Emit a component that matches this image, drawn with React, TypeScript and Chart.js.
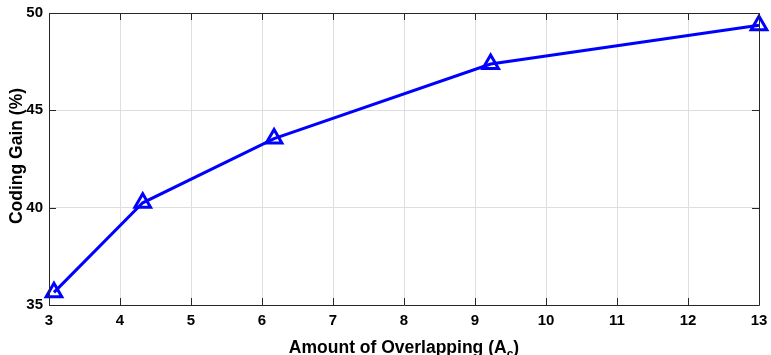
import React, { useEffect, useRef } from "react";
import { Chart, registerables } from "chart.js";

Chart.register(...registerables);

const overlapping = [3.07, 4.32, 6.17, 9.22, 13];
const codingGain = [35.65, 40.25, 43.55, 47.38, 49.37];
const xTicks = [3, 4, 5, 6, 7, 8, 9, 10, 11, 12, 13];
const yTicks = [35, 40, 45, 50];
const xTitleMain = "Amount of Overlapping (A";
const xTitleSub = "c";
const xTitleEnd = ")";
const yTitle = "Coding Gain (%)";

const FONT = "'Liberation Sans', Arial, Helvetica, sans-serif";

const framePlugin = {
  id: "frame",
  afterDraw(chart: any) {
    const { ctx, chartArea } = chart;
    const { left, right, top, bottom } = chartArea;
    const xs = chart.scales.x;
    const ys = chart.scales.y;
    const tl = 7;
    ctx.save();
    ctx.strokeStyle = "#262626";
    ctx.lineWidth = 1;
    ctx.beginPath();
    ctx.rect(Math.round(left) + 0.5, Math.round(top) + 0.5, Math.round(right - left), Math.round(bottom - top));
    ctx.stroke();
    ctx.beginPath();
    xTicks.forEach((v) => {
      const px = Math.round(xs.getPixelForValue(v)) + 0.5;
      ctx.moveTo(px, bottom);
      ctx.lineTo(px, bottom - tl);
      ctx.moveTo(px, top);
      ctx.lineTo(px, top + tl);
    });
    yTicks.forEach((v) => {
      const py = Math.round(ys.getPixelForValue(v)) + 0.5;
      ctx.moveTo(left, py);
      ctx.lineTo(left + tl, py);
      ctx.moveTo(right, py);
      ctx.lineTo(right - tl, py);
    });
    ctx.stroke();

    // axis titles
    ctx.fillStyle = "#000";
    const big = `bold 17.5px ${FONT}`;
    const small = `bold 12px ${FONT}`;
    ctx.font = big;
    const w1 = ctx.measureText(xTitleMain).width;
    const w3 = ctx.measureText(xTitleEnd).width;
    ctx.font = small;
    const w2 = ctx.measureText(xTitleSub).width;
    const total = w1 + w2 + w3;
    const cx = (left + right) / 2;
    const x0 = cx - total / 2;
    const base = 353;
    ctx.textBaseline = "alphabetic";
    ctx.textAlign = "left";
    ctx.font = big;
    ctx.fillText(xTitleMain, x0, base);
    ctx.font = small;
    ctx.fillText(xTitleSub, x0 + w1, base + 5);
    ctx.font = big;
    ctx.fillText(xTitleEnd, x0 + w1 + w2, base);

    ctx.translate(22, (top + bottom) / 2 - 3);
    ctx.rotate(-Math.PI / 2);
    ctx.textAlign = "center";
    ctx.font = big;
    ctx.fillText(yTitle, 0, 0);
    ctx.restore();
  },
};

export default function App() {
  const ref = useRef<HTMLCanvasElement | null>(null);
  useEffect(() => {
    if (!ref.current) return;
    const chart = new Chart(ref.current, {
      type: "line",
      data: {
        datasets: [
          {
            data: overlapping.map((x, i) => ({ x, y: codingGain[i] })),
            borderColor: "#0000ff",
            backgroundColor: "rgba(0,0,0,0)",
            borderWidth: 3,
            tension: 0,
            clip: false,
            pointStyle: "triangle",
            pointRadius: 9,
            pointBorderWidth: 3,
            pointBorderColor: "#0000ff",
            pointBackgroundColor: "rgba(0,0,0,0)",
          },
        ],
      },
      options: {
        animation: false,
        responsive: true,
        maintainAspectRatio: false,
        layout: { padding: 0 },
        plugins: { legend: { display: false }, tooltip: { enabled: false } },
        scales: {
          x: {
            type: "linear",
            min: 3,
            max: 13,
            afterBuildTicks: (s: any) => {
              s.ticks = xTicks.map((v) => ({ value: v }));
            },
            afterFit: (s: any) => {
              s.height = 50;
              s.paddingLeft = 0;
              s.paddingRight = 7;
            },
            grid: { color: "#dedede", lineWidth: 1, drawTicks: false },
            border: { display: false },
            ticks: {
              color: "#000",
              padding: 7,
              maxRotation: 0,
              font: { family: FONT, size: 15, weight: "bold" },
            },
          },
          y: {
            type: "linear",
            min: 35,
            max: 50,
            afterBuildTicks: (s: any) => {
              s.ticks = yTicks.map((v) => ({ value: v }));
            },
            afterFit: (s: any) => {
              s.width = 49;
              s.paddingTop = 13;
              s.paddingBottom = 0;
            },
            grid: { color: "#dedede", lineWidth: 1, drawTicks: false },
            border: { display: false },
            ticks: {
              color: "#000",
              padding: 6,
              font: { family: FONT, size: 15, weight: "bold" },
            },
          },
        },
      },
      plugins: [framePlugin],
    } as any);
    return () => chart.destroy();
  }, []);
  return (
    <div style={{ position: "fixed", left: 0, top: 0, width: 771, height: 355, background: "#fff" }}>
      <canvas ref={ref} />
    </div>
  );
}
